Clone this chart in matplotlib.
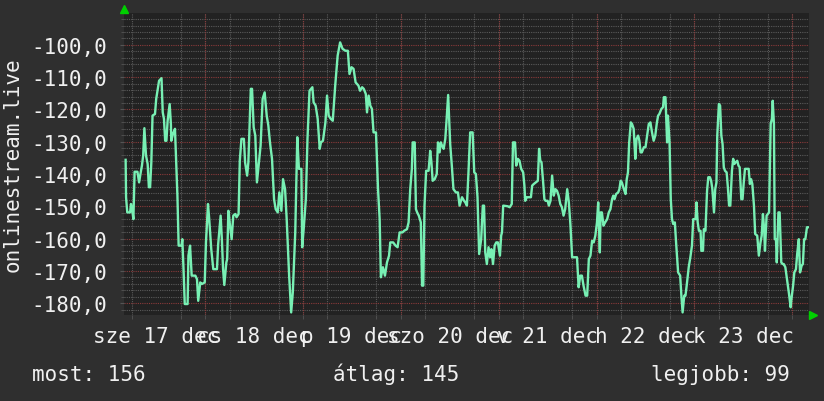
import matplotlib
matplotlib.use('Agg')
import matplotlib.pyplot as plt
from matplotlib.ticker import MultipleLocator, FixedLocator, FuncFormatter

# hours since dec 17 00:00
hours = [
    4.5, 4.6, 4.9, 5.6, 5.8, 6.1, 6.4, 6.7, 7.4, 7.8,
    8.2, 8.5, 8.8, 9.1, 9.5, 9.9, 10.2, 10.5, 10.8, 11.1,
    11.7, 12.0, 12.4, 12.7, 13.3, 13.6, 13.9, 14.2, 14.5, 14.8,
    15.3, 15.6, 15.7, 16.1, 16.6, 17.2, 17.5, 18.2, 18.4, 18.7,
    19.0, 19.7, 19.9, 20.3, 20.7, 21.6, 22.0, 22.3, 22.8, 23.2,
    23.9, 24.2, 24.7, 25.0, 25.5, 26.0, 26.9, 27.2,
    27.6, 27.8, 28.1, 28.4, 28.7, 29.2, 29.4, 29.7, 30.1, 30.5,
    30.9, 31.4, 31.7, 32.2, 32.5, 32.9, 33.5, 33.8, 34.3, 34.6,
    35.2, 35.5, 35.9, 36.3, 36.7, 37.2, 37.6, 38.1, 38.6, 39.1,
    39.5, 39.9, 40.4, 40.9, 41.3, 41.8, 42.2, 42.7, 43.1, 43.6,
    44.0, 44.6, 45.1, 45.5, 46.1, 46.6, 47.0, 47.6, 47.8, 48.2,
    48.7, 49.1, 49.6, 50.3,
    50.6, 51.1, 51.6, 52.1, 52.4, 52.9, 53.5, 53.9, 54.3, 54.8,
    55.3, 55.9, 56.5, 57.1, 57.7, 58.4, 59.0, 59.4, 59.9, 60.4,
    60.9, 61.6, 62.0, 62.5, 62.9, 63.4, 63.7, 64.1, 64.5, 64.9,
    65.3, 65.9, 66.4, 66.8, 67.1, 67.6, 68.1, 68.6, 69.1, 69.4,
    70.1, 70.7, 71.2, 71.7, 72.4, 72.8, 73.5,
    73.9, 74.3, 74.7, 74.9, 75.4, 75.7, 76.0, 76.4, 76.9, 77.2,
    77.5, 77.8, 78.2, 78.8, 79.2, 79.5, 79.8, 80.3, 80.8, 81.1,
    81.5, 81.8, 82.1, 82.5, 82.9, 83.2, 83.6, 83.8, 84.1, 84.5,
    84.9, 85.5, 86.0, 86.4, 87.0, 87.5, 87.8, 88.2, 88.6, 89.0,
    89.6, 90.0, 90.4, 90.8, 91.2, 91.7, 92.1, 92.4, 92.7, 93.1,
    93.5, 93.9, 94.2, 94.6, 95.0, 95.4, 95.8, 96.3, 96.6, 96.8,
    97.1,
    98.2, 98.7, 99.2, 99.5, 100.0, 100.3, 100.7, 101.1, 101.5, 102.0,
    102.3, 102.5, 102.9, 103.4, 103.9, 104.2, 104.6, 105.1, 105.6, 105.9,
    106.2, 106.5, 106.9, 107.2, 107.5, 108.0, 108.3, 108.7, 109.1, 109.5,
    109.9, 110.3, 110.7, 111.1, 111.5, 111.9, 112.3, 112.8, 113.2, 113.6,
    114.0, 114.4, 114.8, 115.2, 115.6, 116.0, 116.4, 116.8, 117.3, 117.7,
    118.1, 118.5, 118.9, 119.3, 119.7, 120.1, 120.4, 120.8,
    121.0, 121.3, 121.7, 122.1, 122.6, 123.0, 123.4, 123.8, 124.1, 124.4,
    124.8, 125.3, 125.6, 125.9, 126.2, 126.7, 127.1, 127.4, 127.7, 128.0,
    128.4, 128.7, 129.1, 129.5, 129.8, 130.2, 130.5, 130.8, 131.1, 131.6,
    132.0, 132.5, 132.8, 133.2, 133.6, 134.0, 134.4, 134.8, 135.1, 135.4,
    135.9, 136.3, 136.5, 136.9, 137.0, 137.3, 137.5, 137.9, 138.2, 138.5,
    138.8, 139.2, 139.5, 140.0, 140.5, 140.8, 141.1, 141.5, 141.8, 142.1,
    142.6, 143.0, 143.4, 143.7,
    144.3, 144.5, 144.8, 145.1, 145.5, 145.7, 146.1, 146.3, 146.7, 147.1,
    147.4, 147.8, 148.1, 148.4, 148.8, 149.1, 149.4, 149.6, 150.0, 150.3,
    150.6, 150.9, 151.2, 151.5, 151.9, 152.2, 152.5, 152.8, 153.2, 153.5,
    153.8, 154.1, 154.5, 154.8, 155.1, 155.5, 155.8, 156.1, 156.4, 156.9,
    157.3, 157.6, 157.9, 158.2, 158.6, 158.9, 159.4, 159.8, 160.2, 160.5,
    160.8, 161.1, 161.3, 161.7, 162.0, 162.3, 162.7, 163.0, 163.2, 163.5,
    163.7, 164.0, 164.2, 164.6, 164.9, 165.3, 165.6, 165.9, 166.3, 166.7,
    167.2, 167.6, 167.8, 168.2, 168.5, 168.9, 169.2, 169.6, 169.9, 170.3,
    170.6, 170.9, 171.2, 171.6, 171.8,
]

values = [
    -135.6, -147.2, -151.9, -151.9, -149.3, -150.9, -154.0, -139.3, -139.3, -142.6,
    -139.5, -137.4, -134.3, -125.8, -134.3, -136.9, -144.1, -144.1, -136.4, -121.9,
    -121.4, -116.7, -113.6, -111.1, -110.3, -120.9, -122.9, -129.7, -129.7, -123.5,
    -118.3, -124.5, -129.7, -127.6, -126.0, -146.7, -162.2, -162.2, -160.2, -169.5,
    -180.3, -180.3, -165.3, -162.2, -171.5, -171.5, -172.6, -179.3, -173.6, -174.1,
    -173.6, -161.2, -149.3, -154.0, -163.3, -169.5, -169.5, -161.7,
    -156.0, -152.9, -160.2, -169.5, -174.4, -167.4, -166.4, -151.4, -156.0, -160.2,
    -152.9, -152.4, -153.4, -152.4, -135.9, -129.1, -129.1, -136.4, -140.5, -136.4,
    -113.6, -113.6, -125.5, -128.1, -142.6, -136.4, -131.2, -116.7, -114.7, -121.9,
    -125.0, -130.2, -135.3, -147.8, -150.9, -151.9, -145.7, -151.4, -141.6, -144.7,
    -154.0, -171.5, -182.9, -176.7, -158.1, -128.6, -138.4, -138.4, -162.7, -156.5,
    -147.8, -129.1, -114.2, -113.1,
    -117.8, -118.8, -122.9, -132.2, -130.2, -129.7, -124.0, -115.7, -121.9, -122.9,
    -123.5, -112.6, -103.3, -99.2, -101.2, -101.8, -101.8, -109.0, -106.9, -107.4,
    -111.6, -112.6, -114.2, -113.1, -113.6, -115.2, -120.9, -115.7, -118.8, -119.8,
    -127.1, -127.1, -144.7, -154.0, -172.0, -168.9, -171.5, -167.4, -165.3, -161.2,
    -161.2, -162.2, -162.7, -158.1, -158.1, -157.6, -157.1,
    -155.0, -144.7, -138.4, -130.2, -130.2, -150.9, -151.9, -152.9, -155.0, -174.6,
    -174.6, -149.8, -139.0, -139.0, -132.8, -136.4, -142.1, -141.6, -140.0, -130.2,
    -133.3, -130.2, -131.2, -132.2, -129.1, -123.5, -115.5, -121.9, -130.7, -137.4,
    -144.7, -145.7, -145.7, -149.8, -147.2, -148.3, -148.8, -149.8, -139.0, -127.1,
    -127.1, -139.5, -140.0, -147.2, -164.8, -160.2, -149.8, -149.8, -164.3, -167.9,
    -162.7, -165.8, -163.3, -167.9, -162.2, -161.2, -161.2, -165.3, -159.1, -158.1,
    -149.8,
    -150.0, -150.3, -149.3, -130.2, -130.2, -137.4, -135.3, -135.9, -138.4, -139.5,
    -143.6, -148.3, -147.2, -147.2, -147.2, -143.6, -143.1, -142.6, -142.1, -132.2,
    -135.9, -136.4, -142.6, -147.8, -148.3, -148.3, -149.8, -148.3, -140.5, -146.7,
    -144.7, -145.2, -146.7, -149.3, -150.3, -152.9, -150.9, -144.7, -148.8, -156.0,
    -165.8, -165.8, -165.8, -165.8, -175.1, -171.5, -171.5, -174.6, -177.7, -177.7,
    -166.4, -165.3, -160.7, -161.2, -159.1, -155.0, -148.8, -164.3,
    -151.9, -151.9, -156.0, -155.0, -154.0, -151.9, -150.9, -147.8, -146.7, -147.8,
    -146.2, -145.7, -144.7, -142.1, -142.6, -144.7, -146.2, -141.6, -139.5, -130.2,
    -124.0, -124.5, -126.0, -135.3, -129.1, -128.1, -129.7, -133.3, -133.3, -131.7,
    -131.7, -127.1, -124.5, -124.0, -127.1, -129.7, -128.1, -124.0, -121.9, -121.4,
    -119.8, -119.3, -116.2, -116.2, -119.8, -130.2, -121.9, -130.2, -147.8, -154.0,
    -155.5, -155.0, -161.2, -170.5, -171.5, -177.7, -182.9, -177.7, -177.7, -174.6,
    -168.9, -165.8, -162.2, -154.0,
    -154.0, -148.8, -155.0, -157.6, -157.6, -163.8, -163.8, -157.1, -157.6, -145.2,
    -141.0, -141.0, -142.1, -144.7, -151.9, -144.7, -142.6, -128.1, -118.3, -118.8,
    -128.1, -130.7, -137.9, -139.0, -139.5, -144.1, -149.8, -149.8, -139.0, -135.3,
    -136.9, -136.4, -135.9, -137.4, -137.9, -147.8, -147.8, -142.6, -138.4, -138.4,
    -138.4, -143.1, -141.6, -143.1, -149.8, -158.6, -159.1, -165.3, -161.2, -159.1,
    -152.4, -157.1, -163.8, -152.9, -152.4, -151.9, -124.5, -122.9, -117.3, -124.5,
    -160.2, -160.2, -167.4, -151.9, -151.9, -167.4, -167.9, -167.9, -168.9, -172.6,
    -177.2, -181.3, -178.7, -174.6, -170.5, -169.5, -164.8, -160.2, -170.5, -168.4,
    -167.9, -160.2, -160.2, -156.5, -156.5,
]

day_labels = ['sze 17 dec', 'cs 18 dec', 'p 19 dec', 'szo 20 dec',
              'v 21 dec', 'h 22 dec', 'k 23 dec']
label_hours = [12, 36, 60, 84, 108, 132, 156]
midnights = [24, 48, 72, 96, 120, 144, 168]
y_label = 'onlinestream.live'
stat_names = ['most', 'átlag', 'legjobb']
stat_values = [156, 145, 99]

mono = 'DejaVu Sans Mono'
txt = '#f0f0f0'
fsize = 15

fig = plt.figure(figsize=(8.24, 4.02), dpi=100, facecolor='#2f2f2f')
ax = fig.add_axes([124 / 824, 1 - 316 / 402, 685 / 824, 302 / 402])
ax.set_facecolor('#222222')

ax.set_xlim(4.1, 172.1)
ax.set_ylim(-183.7, -90.1)

# rrdtool style dotted grid
dots = (0, (1, 1))
ax.yaxis.set_major_locator(MultipleLocator(10))
ax.yaxis.set_minor_locator(MultipleLocator(2))
ax.xaxis.set_major_locator(FixedLocator(label_hours))
ax.xaxis.set_minor_locator(MultipleLocator(6))
ax.grid(which='minor', axis='both', color='#5a5a5a', linestyle=dots, linewidth=0.8)
ax.grid(which='major', axis='y', color='#8a3a3a', linestyle=dots, linewidth=0.8)
for m in midnights:
    ax.axvline(m, color='#8a3a3a', linestyle=dots, linewidth=0.8, zorder=1)
ax.set_axisbelow(True)

ax.plot(hours, values, color='#78f0b4', linewidth=1.7, zorder=3)

ax.yaxis.set_major_formatter(FuncFormatter(lambda v, p: f'{v:.1f}'.replace('.', ',')))
ax.set_xticklabels(day_labels)
ax.tick_params(axis='both', which='both', colors='#555555', labelcolor=txt,
               labelsize=fsize)
ax.tick_params(axis='y', which='major', length=3, pad=9)
ax.tick_params(axis='y', which='minor', length=2)
ax.tick_params(axis='x', which='major', length=0, pad=8)
ax.tick_params(axis='x', which='minor', length=3)
for lab in ax.get_xticklabels() + ax.get_yticklabels():
    lab.set_fontfamily(mono)

for s in ax.spines.values():
    s.set_visible(False)

# green arrows at the axis ends
ax.plot([0], [1.013], marker='^', color='#00d000', markersize=6,
        transform=ax.transAxes, clip_on=False, zorder=5)
ax.plot([1.006], [0], marker='>', color='#00d000', markersize=6,
        transform=ax.transAxes, clip_on=False, zorder=5)

fig.text(13 / 824, 1 - 165 / 402, y_label, rotation=90, ha='center', va='center',
         color=txt, fontsize=fsize, family=mono)

base = 1 - 381 / 402
fig.text(32 / 824, base, f'{stat_names[0]}: {stat_values[0]}', ha='left',
         va='baseline', color=txt, fontsize=fsize, family=mono)
fig.text(333 / 824, base, f'{stat_names[1]}: {stat_values[1]}', ha='left',
         va='baseline', color=txt, fontsize=fsize, family=mono)
fig.text(790 / 824, base, f'{stat_names[2]}: {stat_values[2]}', ha='right',
         va='baseline', color=txt, fontsize=fsize, family=mono)

fig.savefig('out.png', dpi=100, facecolor=fig.get_facecolor())
